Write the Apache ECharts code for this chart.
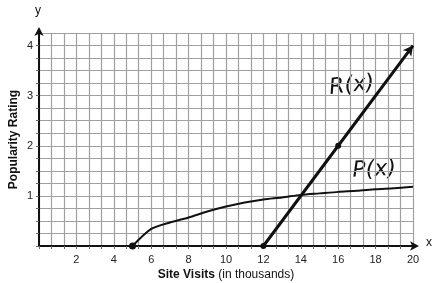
<!DOCTYPE html>
<html>
<head>
<meta charset="utf-8">
<script src="https://cdn.jsdelivr.net/npm/echarts@6/dist/echarts.min.js"></script>
<style>
html, body { margin: 0; padding: 0; background: #fff; }
#main { width: 433px; height: 283px; }
</style>
</head>
<body>
<div id="main"></div>
<script>
// 数据
var xTicks = [2, 4, 6, 8, 10, 12, 14, 16, 18, 20]
var yTicks = [1, 2, 3, 4]
var rX = [12, 16, 20]
var rY = [0, 2, 4]
var pX = [5, 6, 7, 8, 9, 10, 11, 12, 13, 14, 15, 16, 17, 18, 19, 20]
var pY = [0, 0.34, 0.47, 0.57, 0.69, 0.79, 0.87, 0.93, 0.97, 1.02, 1.05, 1.08, 1.1, 1.13, 1.15, 1.18]

var ink = '#111'
var gridColor = '#a0a0a0'

var rData = rX.map(function (x, i) {
    var item = { value: [x, rY[i]] }
    if (i === rX.length - 1) {
        item.symbol = 'arrow'
        item.symbolSize = [8, 10]
        item.symbolRotate = -37
    } else {
        item.symbolSize = 6
    }
    return item
})
var pData = pX.map(function (x, i) {
    return { value: [x, pY[i]], symbolSize: i === 0 ? 7 : 0 }
})

var myChart = echarts.init(document.getElementById('main'))
var option = {
    animation: false,
    backgroundColor: '#fff',
    grid: { left: 39, right: 20, top: 33, bottom: 37, outerBoundsMode: 'none', containLabel: false },
    xAxis: {
        type: 'value',
        min: 0,
        max: 20,
        interval: 2,
        name: '{b|Site Visits} (in thousands)',
        nameLocation: 'middle',
        nameGap: 23,
        nameMoveOverlap: false,
        nameTextStyle: {
            fontFamily: 'Liberation Sans',
            fontSize: 12,
            color: ink,
            rich: { b: { fontWeight: 'bold', fontSize: 12, color: ink, fontFamily: 'Liberation Sans' } }
        },
        axisLine: {
            onZero: false,
            symbol: ['none', 'arrow'],
            symbolSize: [7, 9],
            symbolOffset: [0, 6],
            lineStyle: { color: ink, width: 2 }
        },
        axisTick: { show: true, length: 3, lineStyle: { color: '#666' } },
        minorTick: { show: true, splitNumber: 3, length: 3, lineStyle: { color: '#666' } },
        axisLabel: {
            color: '#222',
            fontSize: 11,
            fontFamily: 'Liberation Sans',
            margin: 8,
            formatter: function (v) { return xTicks.indexOf(v) >= 0 ? String(v) : '' }
        },
        splitLine: { show: true, lineStyle: { color: gridColor, width: 1.2 } },
        minorSplitLine: { show: true, lineStyle: { color: gridColor, width: 1.2 } }
    },
    yAxis: {
        type: 'value',
        min: 0,
        max: 4.25,
        interval: 0.25,
        name: 'Popularity Rating',
        nameLocation: 'middle',
        nameGap: 19,
        nameMoveOverlap: false,
        nameTextStyle: { fontFamily: 'Liberation Sans', fontSize: 12, fontWeight: 'bold', color: ink },
        axisLine: {
            onZero: false,
            symbol: ['none', 'arrow'],
            symbolSize: [7, 9],
            symbolOffset: [0, 6],
            lineStyle: { color: ink, width: 2 }
        },
        axisTick: { show: true, length: 3, lineStyle: { color: '#666' } },
        axisLabel: {
            color: '#222',
            fontSize: 11,
            fontFamily: 'Liberation Sans',
            margin: 6,
            formatter: function (v) { return yTicks.indexOf(v) >= 0 ? String(v) : '' }
        },
        splitLine: { show: true, lineStyle: { color: gridColor, width: 1.2 } }
    },
    series: [
        {
            name: 'R(x)',
            type: 'line',
            data: rData,
            symbol: 'circle',
            itemStyle: { color: ink },
            lineStyle: { color: ink, width: 3 },
            z: 5
        },
        {
            name: 'P(x)',
            type: 'line',
            data: pData,
            smooth: 0.25,
            symbol: 'circle',
            itemStyle: { color: ink },
            lineStyle: { color: ink, width: 2 },
            z: 4
        }
    ],
    graphic: [
        { type: 'text', left: 35, top: 5, style: { text: 'y', fontSize: 12, fontFamily: 'Liberation Sans', fill: ink } },
        { type: 'text', left: 426, top: 237, style: { text: 'x', fontSize: 12, fontFamily: 'Liberation Sans', fill: ink } },
        { type: 'text', left: 328, top: 72, rotation: 0.12, style: { text: 'R(x)', fontSize: 22, fontFamily: 'DejaVu Sans', fontStyle: 'italic', fill: ink } },
        { type: 'text', left: 352, top: 158, rotation: 0.05, style: { text: 'P(x)', fontSize: 22, fontFamily: 'DejaVu Sans', fontStyle: 'italic', fill: ink } }
    ]
}
myChart.setOption(option)
</script>
</body>
</html>
